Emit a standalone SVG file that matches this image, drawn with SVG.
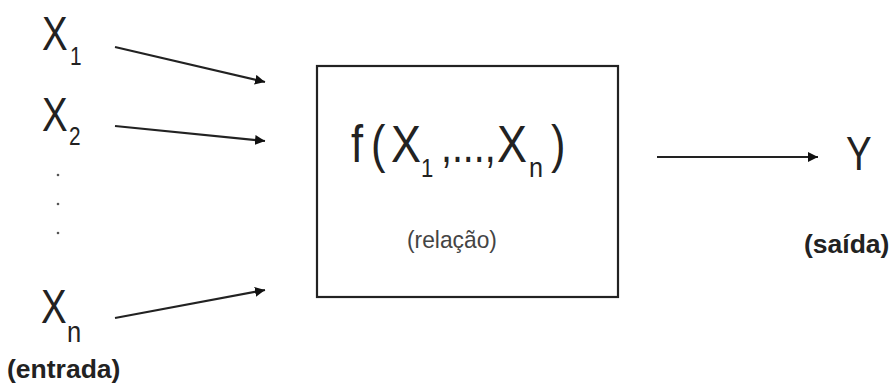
<svg xmlns="http://www.w3.org/2000/svg" width="892" height="385" viewBox="0 0 892 385">
<defs>
<marker id="ah" viewBox="0 0 10 10" refX="10" refY="5" markerWidth="10" markerHeight="10" markerUnits="userSpaceOnUse" orient="auto"><path d="M0,0 L10,5 L0,10 z" fill="#111"/></marker>
<style>
.big{font-family:"Liberation Sans",Arial,sans-serif;font-size:48px;fill:#222}
.fx{font-family:"Liberation Sans",Arial,sans-serif;font-size:51px;fill:#222}
.sub{font-family:"Liberation Sans",Arial,sans-serif;font-size:26px;fill:#222}
.lbl{font-family:"Liberation Sans",Arial,sans-serif;font-size:26.5px;font-weight:bold;fill:#222}
.rel{font-family:"Liberation Sans",Arial,sans-serif;font-size:24px;fill:#444}
.c{stroke:#222;stroke-width:2.2;fill:none;marker-end:url(#ah)}
</style>
</defs>
<rect width="892" height="385" fill="#fff"/>
<g id="x1">
<text class="big" transform="translate(42,50) scale(0.8,1)">X</text>
<text class="sub" transform="translate(70,65) scale(0.8,1)">1</text>
</g>
<g id="x2">
<text class="big" transform="translate(42,131) scale(0.8,1)">X</text>
<text class="sub" transform="translate(69,145) scale(0.8,1)">2</text>
</g>
<g id="dots" fill="#555">
<circle cx="58" cy="175" r="1.3"/>
<circle cx="58" cy="204" r="1.3"/>
<circle cx="58" cy="233" r="1.3"/>
</g>
<g id="xn">
<text class="big" transform="translate(41,323) scale(0.8,1)">X</text>
<text class="sub" transform="translate(67,342) scale(0.85,1)" style="font-size:30px">n</text>
<text class="lbl" transform="translate(7,378)">(entrada)</text>
</g>
<g id="f">
<rect x="317" y="66" width="301" height="231" fill="none" stroke="#222" stroke-width="2.2"/>
<text class="fx" transform="translate(351,162) scale(0.85,1)">f</text>
<text class="fx" transform="translate(371,162) scale(0.85,1)">(</text>
<text class="fx" transform="translate(391,162) scale(0.88,1)">X</text>
<text class="sub" transform="translate(421,177) scale(0.85,1)">1</text>
<text class="fx" transform="translate(441,162) scale(0.82,1)" style="font-size:48px">,...,</text>
<text class="fx" transform="translate(497,162) scale(0.88,1)">X</text>
<text class="sub" transform="translate(529,177) scale(0.9,1)" style="font-size:28px">n</text>
<text class="fx" transform="translate(551,162) scale(0.85,1)">)</text>
<text class="rel" transform="translate(407,248) scale(0.95,1)">(relação)</text>
</g>
<g id="y">
<text class="big" transform="translate(846,170) scale(0.8,1)">Y</text>
<text class="lbl" transform="translate(804,253)">(saída)</text>
</g>
<g id="connectors">
<line class="c" x1="115" y1="47" x2="265" y2="82"/>
<line class="c" x1="115" y1="126" x2="265" y2="141"/>
<line class="c" x1="115" y1="318" x2="265" y2="290"/>
<line class="c" x1="657" y1="157" x2="818" y2="157"/>
</g>
</svg>
